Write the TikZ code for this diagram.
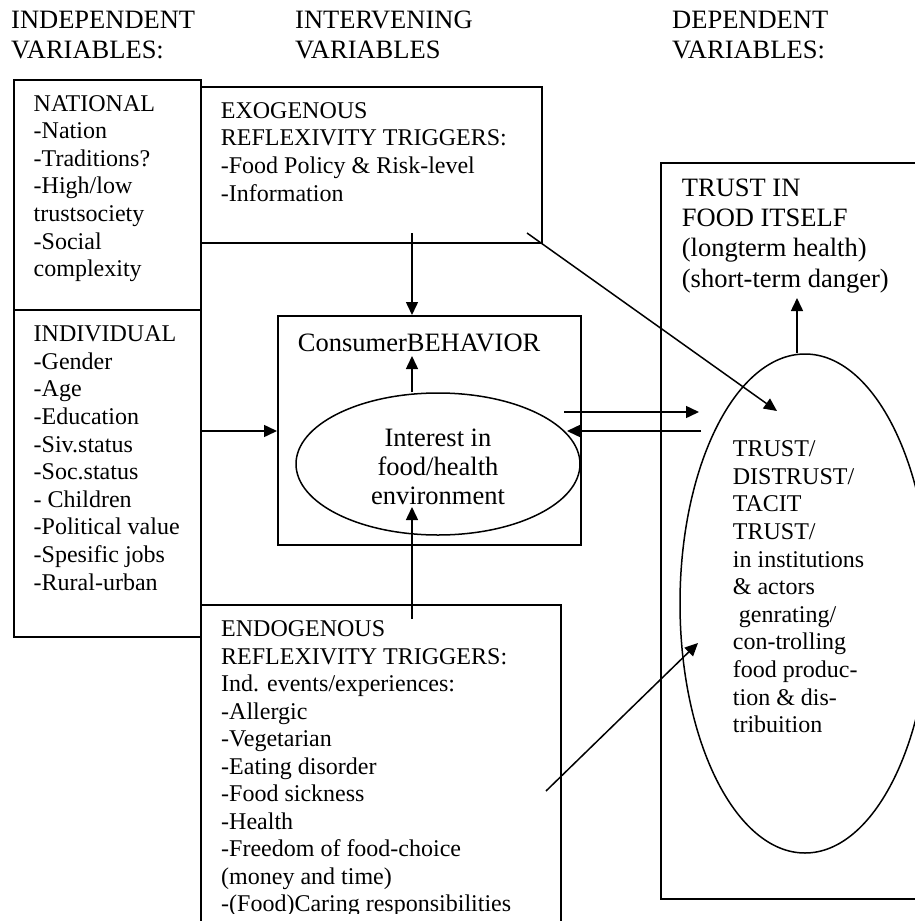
\documentclass[tikz,border=0pt]{standalone}
\usepackage{fontspec}
\setmainfont{Liberation Serif}
\usetikzlibrary{arrows.meta,shapes.geometric}
\newcommand\mlL[1]{\vtop{\halign{##\hfil\cr#1\crcr}}}
\newcommand\mlC[1]{\vtop{\halign{\hfil##\hfil\cr#1\crcr}}}
\newcommand\fbody{\fontsize{24}{27.6}\selectfont}
\newcommand\fhead{\fontsize{26.5}{30}\selectfont}
\newcommand\fell{\fontsize{26.5}{29}\selectfont}
\newcommand\ftrust{\fontsize{26.5}{30.4}\selectfont}
\tikzset{
  box/.style={draw, line width=1.5pt, inner sep=0pt, anchor=north west},
  oval/.style={draw, ellipse, line width=1.5pt, inner sep=0pt},
  txt/.style={inner sep=0pt, anchor=base west},
  arr/.style={-{Triangle[length=13pt,width=12pt]}, line width=1.5pt},
}
\begin{document}
\begin{tikzpicture}[x=1pt,y=-1pt]
\clip (0,0) rectangle (915,921);
\fill[white] (0,0) rectangle (915,921);
% headers
\node[txt] (h1) at (11,28) {\fhead\mlL{INDEPENDENT\cr VARIABLES:}};
\node[txt] (h2) at (295,28) {\fhead\mlL{INTERVENING\cr VARIABLES}};
\node[txt] (h3) at (672,28) {\fhead\mlL{DEPENDENT\cr VARIABLES:}};
% boxes
\node[box, minimum width=187pt, minimum height=230pt] (nat) at (13,79) {};
\node[box, minimum width=187pt, minimum height=327pt] (ind) at (13,309) {};
\node[box, minimum width=341pt, minimum height=156pt] (exo) at (200,86) {};
\node[box, minimum width=303pt, minimum height=229pt] (cons) at (277,315) {};
\node[box, minimum width=360pt, minimum height=340pt] (endo) at (200,604) {};
\node[box, minimum width=265pt, minimum height=736pt] (trust) at (660,162) {};
% ellipses
\node[oval, minimum width=284pt, minimum height=142pt] (cell) at (438,464) {};
\node[oval, minimum width=250pt, minimum height=499pt] (tell) at (805,603.5) {};
% texts
\node[txt] (natt) at (33.5,111) {\fbody\mlL{NATIONAL\cr -Nation\cr -Traditions?\cr -High/low\cr trustsociety\cr -Social\cr complexity}};
\node[txt] (exot) at (220.7,118.3) {\fbody\mlL{EXOGENOUS\cr REFLEXIVITY TRIGGERS:\cr -Food Policy \& Risk-level\cr -Information}};
\node[txt] (indt) at (33.5,341.7) {\fbody\mlL{INDIVIDUAL\cr -Gender\cr -Age\cr -Education\cr -Siv.status\cr -Soc.status\cr - Children\cr -Political value\cr -Spesific jobs\cr -Rural-urban}};
\node[txt] (cb) at (297.7,351.7) {\fhead ConsumerBEHAVIOR};
\node[inner sep=0pt, anchor=base] (cellt) at (438,446) {\fell\mlC{Interest in\cr food/health\cr environment}};
\node[txt] (trustt) at (681.7,196) {\ftrust\mlL{TRUST IN\cr FOOD ITSELF\cr (longterm health)\cr (short-term danger)}};
\node[txt] (tellt) at (732.7,456.7) {\fbody\mlL{TRUST/\cr DISTRUST/\cr TACIT\cr TRUST/\cr in institutions\cr \& actors\cr \ genrating/\cr con-trolling\cr food produc-\cr tion \& dis-\cr tribuition}};
\begin{scope}
\clip (200,600) rectangle (560,913.5);
\node[txt] (endot) at (221,636.7) {\fontsize{24}{27.5}\selectfont\mlL{ENDOGENOUS\cr REFLEXIVITY TRIGGERS:\cr Ind. events/experiences:\cr -Allergic\cr -Vegetarian\cr -Eating disorder\cr -Food sickness\cr -Health\cr -Freedom of food-choice\cr (money and time)\cr -(Food)Caring responsibilities}};
\end{scope}
% connector coordinates
\coordinate (exoout) at (412,233);
\coordinate (cbtip) at (412,356);
\coordinate (indout) at (200,431);
\coordinate (endoout) at (412,619);
\coordinate (celltip) at (412,507);
\coordinate (rstart) at (564,412);
\coordinate (rtip) at (699,412);
\coordinate (lstart) at (701,431);
\coordinate (ltip) at (567,431);
\coordinate (exodiag) at (527,233);
\coordinate (telltip1) at (777,411);
\coordinate (trusttip) at (797,298);
\coordinate (endodiag) at (546,791);
\coordinate (telltip2) at (698,643);
% connectors
\draw[arr] (exoout) -- (exoout |- cons.north);
\draw[arr] (cell.north -| cbtip) -- (cbtip);
\draw[arr] (indout) -- (indout -| cons.west);
\draw[arr] (endoout) -- (celltip);
\draw[arr] (rstart) -- (rtip);
\draw[arr] (lstart) -- (ltip);
\draw[arr] (exodiag) -- (telltip1);
\draw[arr] (tell.north -| trusttip) -- (trusttip);
\draw[arr] (endodiag) -- (telltip2);
\end{tikzpicture}
\end{document}
